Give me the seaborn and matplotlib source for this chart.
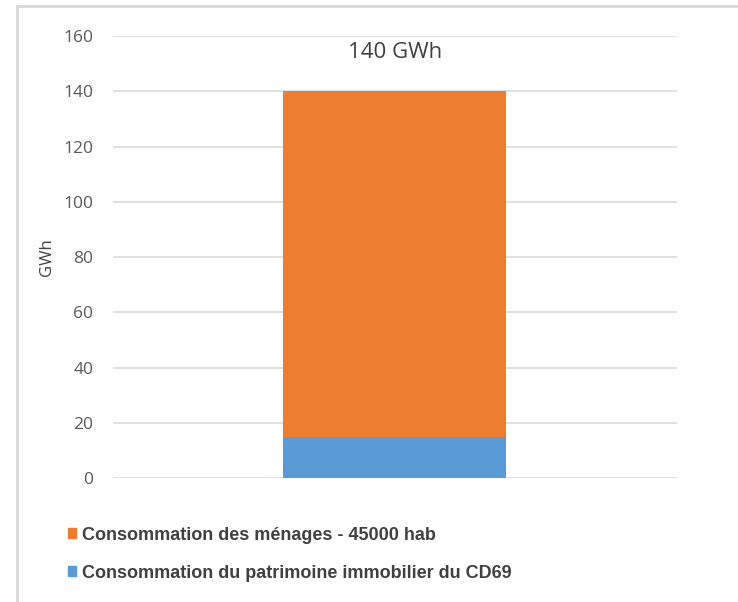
import matplotlib
matplotlib.use("Agg")
import matplotlib.pyplot as plt
import matplotlib.patches as mpatches
from matplotlib.lines import Line2D
import seaborn as sns
import pandas as pd

# data
category = [""]
patrimoine = [15]
menages = [125]
total_label = "140 GWh"
series_names = ["Consommation des ménages - 45000 hab",
                "Consommation du patrimoine immobilier du CD69"]
colors = ["#ED7D31", "#5B9BD5"]

df = pd.DataFrame({"cat": category, "patrimoine": patrimoine, "menages": menages})

sns.set_style("white")
plt.rcParams["font.family"] = ["Open Sans", "DejaVu Sans"]

fig = plt.figure(figsize=(7.38, 6.02), dpi=100)
ax = fig.add_axes([0.153, 0.206, 0.764, 0.734])

sns.barplot(data=df, x="cat", y="patrimoine", color=colors[1], width=0.395,
            saturation=1, linewidth=0, edgecolor="none", ax=ax)
sns.barplot(data=df, x="cat", y="menages", color=colors[0], width=0.395,
            saturation=1, linewidth=0, edgecolor="none",
            bottom=df["patrimoine"], ax=ax)

ax.set_ylim(0, 160)
ax.set_xlim(-0.5, 0.5)
ax.set_yticks(range(0, 161, 20))
ax.yaxis.grid(True, color="#D9D9D9", linewidth=1.2)
ax.set_axisbelow(True)
for s in ax.spines.values():
    s.set_visible(False)
ax.set_xticks([])
ax.set_xlabel("")
ax.set_ylabel("GWh", fontsize=12, color="#404040", labelpad=6)
ax.tick_params(axis="y", labelsize=12.5, labelcolor="#595959", length=0, pad=14)

ax.text(0, 154, total_label, ha="center", va="center", fontsize=16, color="#404040")

handles = [mpatches.Patch(color=c) for c in colors]
fig.legend(handles, series_names, loc="upper left", bbox_to_anchor=(0.08, 0.14),
           frameon=False, handlelength=0.45, handleheight=0.45, handletextpad=0.3,
           labelspacing=1.15, borderpad=0,
           prop={"family": "Liberation Sans", "weight": "bold", "size": 13},
           labelcolor="#404040")

# outer frame lines
fig.add_artist(Line2D([0.023, 1.0], [0.990, 0.990], transform=fig.transFigure,
                      color="#D9D9D9", linewidth=2))
fig.add_artist(Line2D([0.023, 0.023], [0.0, 0.990], transform=fig.transFigure,
                      color="#D9D9D9", linewidth=2))

fig.savefig("out.png", dpi=100)
